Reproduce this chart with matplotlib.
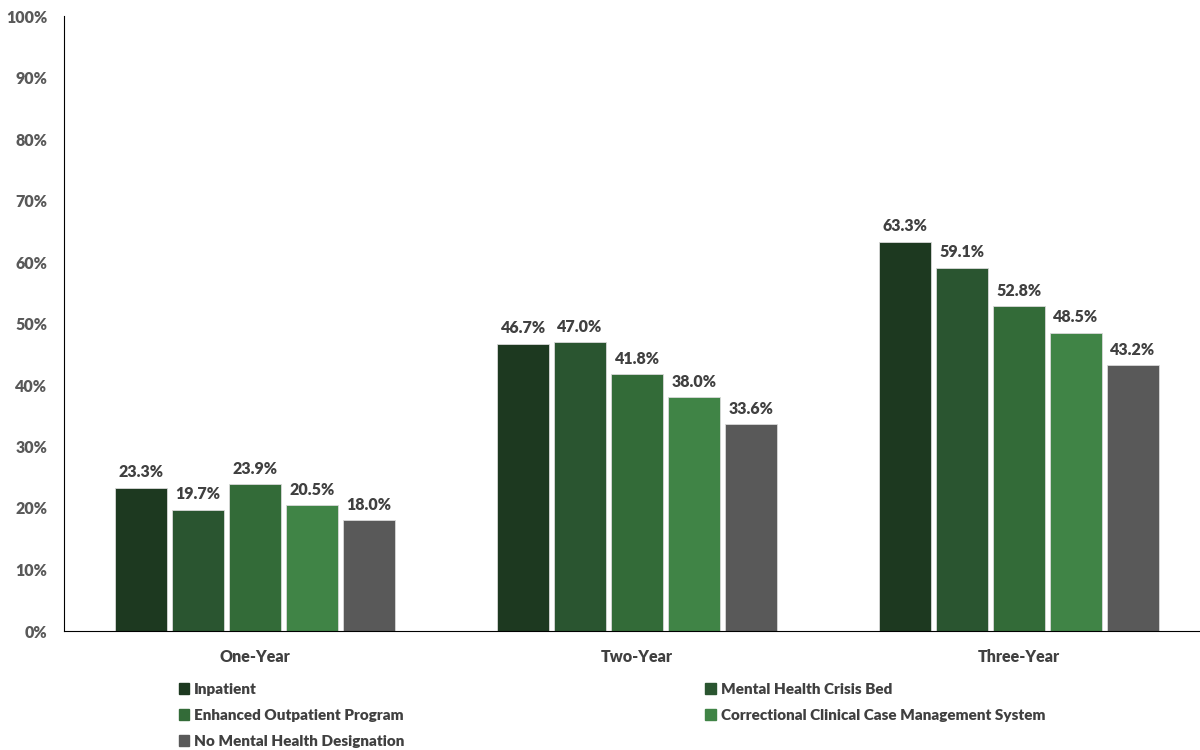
import numpy as np
import matplotlib.pyplot as plt
from matplotlib.patches import Patch

plt.rcParams['font.family'] = ['Lato', 'DejaVu Sans']
plt.rcParams['font.weight'] = 'bold'

periods = ['One-Year', 'Two-Year', 'Three-Year']
groups = ['Inpatient', 'Mental Health Crisis Bed', 'Enhanced Outpatient Program',
          'Correctional Clinical Case Management System', 'No Mental Health Designation']
inpatient = [23.3, 46.7, 63.3]
crisis_bed = [19.7, 47.0, 59.1]
enhanced_outpatient = [23.9, 41.8, 52.8]
cccms = [20.5, 38.0, 48.5]
no_mh = [18.0, 33.6, 43.2]
values = [inpatient, crisis_bed, enhanced_outpatient, cccms, no_mh]
colors = ['#1d3920', '#2a5530', '#336b38', '#408446', '#595959']

fig = plt.figure(figsize=(12, 7.5), dpi=100)
ax = fig.add_axes([64/1200, 119/750, 1146/1200, 615/750])

x = np.arange(len(periods))
pitch = 0.149
for i, (vals, c) in enumerate(zip(values, colors)):
    pos = x + (i - 2) * pitch
    bars = ax.bar(pos, vals, 0.137, color=c, edgecolor='#d9d9d9', linewidth=0.6, label=groups[i])
    for b, v in zip(bars, vals):
        ax.text(b.get_x() + b.get_width()/2, v + 1.2, f'{v:.1f}%', ha='center', va='bottom',
                fontsize=11.5, fontweight='heavy', color='#404040')

ax.set_xlim(-0.5, 2.5)
ax.set_ylim(0, 100)
ax.set_yticks(np.arange(0, 101, 10))
ax.set_yticklabels([f'{t}%' for t in range(0, 101, 10)], fontsize=11.5, fontweight='heavy', color='#595959')
ax.set_xticks(x)
ax.set_xticklabels(periods, fontsize=11.5, fontweight='heavy', color='#404040')
ax.tick_params(axis='both', length=0)
ax.tick_params(axis='x', pad=13)
ax.tick_params(axis='y', pad=12)
for s in ['top', 'right']:
    ax.spines[s].set_visible(False)
ax.spines['left'].set_color('black')
ax.spines['bottom'].set_color('black')

order = [0, 2, 4, 1, 3]
handles = [Patch(color=colors[k]) for k in order]
labels = [groups[k] for k in order]
fig.legend(handles, labels, ncol=2, loc='upper left', bbox_to_anchor=(165/1200, 1 - 669/750),
           frameon=False, prop={'size': 11, 'weight': 'heavy'}, handlelength=0.7, handleheight=0.7,
           handletextpad=0.3, labelspacing=0.85, columnspacing=19.7, labelcolor='#404040')

fig.savefig('out.png', dpi=100)
